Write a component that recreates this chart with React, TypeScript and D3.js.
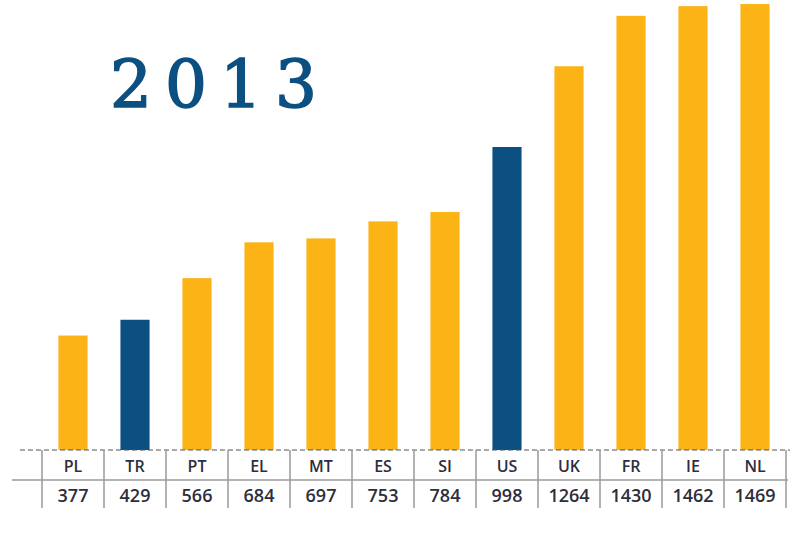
import React from "react";
import * as d3 from "d3";

const categories = ["PL", "TR", "PT", "EL", "MT", "ES", "SI", "US", "UK", "FR", "IE", "NL"];
const values = [377, 429, 566, 684, 697, 753, 784, 998, 1264, 1430, 1462, 1469];
const highlighted = ["TR", "US"];
const title = "2013";

const W = 800;
const H = 550;
const GOLD = "#FBB316";
const BLUE = "#0B5080";
const TEXT = "#2E2E3C";
const GRID = "#9A9A9A";

export default function App() {
  const x = d3.scaleBand<string>().domain(categories).range([42, 786]).padding(0);
  const y = d3.scaleLinear().domain([0, 1469]).range([450, 4]);
  const bw = x.bandwidth() * 0.47;
  const rowTop = 450;
  const rowMid = 480;
  const rowBottom = 508;

  return (
    <svg
      width={W}
      height={H}
      style={{ position: "absolute", left: 0, top: 0, background: "#fff" }}
    >
      {categories.map((c, i) => {
        const cx = (x(c) as number) + x.bandwidth() / 2;
        return (
          <rect
            key={c}
            x={cx - bw / 2}
            y={y(values[i])}
            width={bw}
            height={y(0) - y(values[i])}
            fill={highlighted.includes(c) ? BLUE : GOLD}
          />
        );
      })}
      <line x1={20} x2={790} y1={rowTop} y2={rowTop} stroke="#555" strokeWidth={1.2} strokeDasharray="5,3" />
      <line x1={12} x2={788} y1={rowMid} y2={rowMid} stroke={GRID} strokeWidth={1.5} />
      {[...categories.map((c) => x(c) as number), 786].map((v, i) => (
        <line key={i} x1={v} x2={v} y1={rowTop} y2={rowBottom} stroke={GRID} strokeWidth={1.5} />
      ))}
      {categories.map((c, i) => {
        const cx = (x(c) as number) + x.bandwidth() / 2;
        return (
          <g key={c} fontFamily="'Open Sans', sans-serif" fontWeight={600} fill={TEXT} textAnchor="middle">
            <text x={cx} y={472} fontSize={16}>{c}</text>
            <text x={cx} y={502} fontSize={18}>{values[i]}</text>
          </g>
        );
      })}
      <text
        x={110}
        y={107}
        fontFamily="'DejaVu Serif', serif"
        fontSize={66}
        letterSpacing={13}
        fill={BLUE}
        stroke={BLUE}
        strokeWidth={1.6}
      >
        {title}
      </text>
    </svg>
  );
}
